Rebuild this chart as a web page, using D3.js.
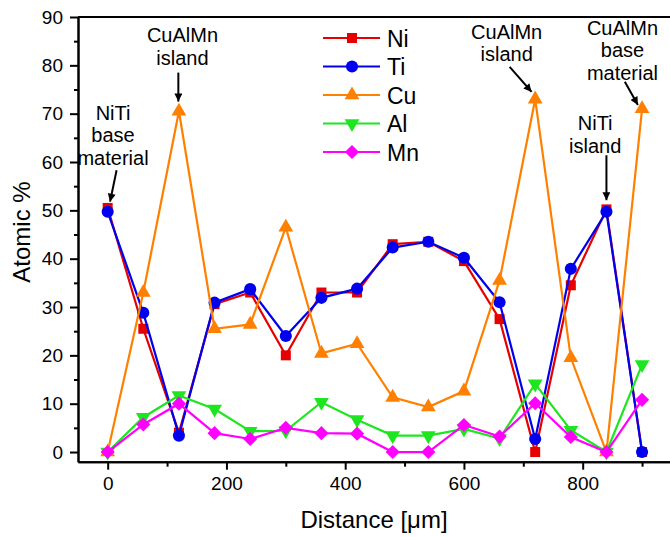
<!DOCTYPE html>
<html>
<head>
<meta charset="utf-8">
<script src="https://cdn.jsdelivr.net/npm/d3@7"></script>
<style>
  body { margin: 0; background: #fff; }
  text { font-family: Arial, "Liberation Sans", sans-serif; fill: #000; }
</style>
</head>
<body>
<div id="chart"></div>
<script>
var width = 670
var height = 537

// Data
var distance = [0, 60, 120, 180, 240, 300, 360, 420, 480, 540, 600, 660, 720, 780, 840, 900];
var ni = [50.5, 25.5, 4, 30.6, 33, 20, 33, 33, 43, 43.5, 39.5, 27.5, 0, 34.5, 50.2, 0];
var ti = [49.7, 28.8, 3.4, 30.9, 33.7, 24, 31.9, 33.8, 42.3, 43.5, 40.2, 31, 2.7, 37.9, 49.7, 0];
var cu = [0, 33, 70.5, 25.5, 26.4, 46.5, 20.4, 22.4, 11.3, 9.3, 12.6, 35.5, 73, 19.5, 0, 71];
var al = [0, 7.2, 11.7, 8.9, 4.3, 4.4, 10.3, 6.7, 3.4, 3.4, 4.8, 2.8, 14.1, 4.5, 0, 18.1];
var mn = [0, 5.7, 10, 3.9, 2.7, 5, 3.9, 3.8, 0, 0, 5.6, 3.2, 10.1, 3.1, 0, 10.8];

var seriesNames = ["Ni", "Ti", "Cu", "Al", "Mn"];
var seriesValues = [ni, ti, cu, al, mn];
var seriesColors = ["#e60000", "#0000ee", "#ff8000", "#1ee61e", "#ff00ff"];

var xTicks = [0, 200, 400, 600, 800];
var xMinorTicks = [100, 300, 500, 700, 900];
var yTicks = [0, 10, 20, 30, 40, 50, 60, 70, 80, 90];
var yMinorTicks = [5, 15, 25, 35, 45, 55, 65, 75, 85];

var annotations = [
    {lines: ["NiTi", "base", "material"], x: 9, y: 68.7, from: [15, 58.3], to: [4, 51.8]},
    {lines: ["CuAlMn", "island"], x: 126, y: 84.8, from: [119, 78.5], to: [119, 72.5]},
    {lines: ["CuAlMn", "island"], x: 672, y: 85.5, from: [677, 79.7], to: [714, 74.5]},
    {lines: ["CuAlMn", "base", "material"], x: 867, y: 86.3, from: [871, 76.6], to: [893, 71.8]},
    {lines: ["NiTi", "island"], x: 821, y: 66.6, from: [840, 61.4], to: [840, 52.1]}
];

// Scales

var x_scale = d3.scaleLinear()
    .domain([-50, 950])
    .range([78, 671.75]);

var y_scale = d3.scaleLinear()
    .domain([-2, 90])
    .range([461.7, 17]);

var svg = d3.select("#chart")
    .append("svg")
    .attr("width", width)
    .attr("height", height)
    .style("background-color", "white");

svg.append("defs").append("marker")
    .attr("id", "arrow")
    .attr("viewBox", "0 0 10 10")
    .attr("refX", 10)
    .attr("refY", 5)
    .attr("markerWidth", 10)
    .attr("markerHeight", 8)
    .attr("markerUnits", "userSpaceOnUse")
    .attr("orient", "auto")
    .append("path")
    .attr("d", "M0,0 L10,5 L0,10 Z")
    .attr("fill", "#000");

// Axes

var yAxis = d3.axisLeft(y_scale).tickValues(yTicks).tickSize(8).tickPadding(7).tickSizeOuter(0);
var yMinor = d3.axisLeft(y_scale).tickValues(yMinorTicks).tickSize(4).tickFormat("").tickSizeOuter(0);
var xAxis = d3.axisBottom(x_scale).tickValues(xTicks).tickSize(8).tickPadding(7).tickSizeOuter(0);
var xMinor = d3.axisBottom(x_scale).tickValues(xMinorTicks).tickSize(5).tickFormat("").tickSizeOuter(0);

var gy = svg.append("g").attr("transform", "translate(" + x_scale(-50) + ",0)").call(yAxis);
svg.append("g").attr("transform", "translate(" + x_scale(-50) + ",0)").call(yMinor);
var gx = svg.append("g").attr("transform", "translate(0," + y_scale(-2) + ")").call(xAxis);
svg.append("g").attr("transform", "translate(0," + y_scale(-2) + ")").call(xMinor);

svg.selectAll(".domain, .tick line").attr("stroke", "#000").attr("stroke-width", 2);
svg.selectAll(".tick text").style("font-size", "19px").attr("fill", "#000");

// top frame line
svg.append("line")
    .attr("x1", x_scale(-50)).attr("x2", x_scale(950))
    .attr("y1", y_scale(90)).attr("y2", y_scale(90))
    .attr("stroke", "#000").attr("stroke-width", 2);

svg.append("text")
    .attr("x", 374).attr("y", 528)
    .attr("text-anchor", "middle")
    .style("font-size", "24px")
    .text("Distance [\u03bcm]");

svg.append("text")
    .attr("transform", "translate(30,232) rotate(-90)")
    .attr("text-anchor", "middle")
    .style("font-size", "24px")
    .text("Atomic %");

// Series

var symbols = [
    {type: d3.symbolSquare, size: 100, rot: 0},
    {type: d3.symbolCircle, size: 115, rot: 0},
    {type: d3.symbolTriangle, size: 95, rot: 0},
    {type: d3.symbolTriangle, size: 95, rot: 180},
    {type: d3.symbolSquare, size: 100, rot: 45}
];

var line = d3.line()
    .x(function(d, i) { return x_scale(distance[i]); })
    .y(function(d) { return y_scale(d); });

seriesValues.forEach(function(vals, s) {
    var g = svg.append("g");
    g.append("path")
        .attr("d", line(vals))
        .attr("fill", "none")
        .attr("stroke", seriesColors[s])
        .attr("stroke-width", 2.2);
    g.selectAll("path.pt")
        .data(vals)
        .enter()
        .append("path")
        .attr("class", "pt")
        .attr("d", d3.symbol().type(symbols[s].type).size(symbols[s].size))
        .attr("transform", function(d, i) {
            return "translate(" + x_scale(distance[i]) + "," + y_scale(d) + ") rotate(" + symbols[s].rot + ")";
        })
        .attr("fill", seriesColors[s]);
});

// Legend

var legend = svg.append("g");
seriesNames.forEach(function(name, s) {
    var ly = 38 + s * 28.5;
    legend.append("line")
        .attr("x1", 323).attr("x2", 380)
        .attr("y1", ly).attr("y2", ly)
        .attr("stroke", seriesColors[s]).attr("stroke-width", 2.2);
    legend.append("path")
        .attr("d", d3.symbol().type(symbols[s].type).size(symbols[s].size))
        .attr("transform", "translate(352," + ly + ") rotate(" + symbols[s].rot + ")")
        .attr("fill", seriesColors[s]);
    legend.append("text")
        .attr("x", 387).attr("y", ly + 8.5)
        .style("font-size", "23px")
        .text(name);
});

// Annotations

annotations.forEach(function(a) {
    a.lines.forEach(function(t, k) {
        svg.append("text")
            .attr("x", x_scale(a.x))
            .attr("y", y_scale(a.y) + k * 22.5)
            .attr("text-anchor", "middle")
            .style("font-size", "20px")
            .text(t);
    });
    svg.append("line")
        .attr("x1", x_scale(a.from[0])).attr("y1", y_scale(a.from[1]))
        .attr("x2", x_scale(a.to[0])).attr("y2", y_scale(a.to[1]))
        .attr("stroke", "#000").attr("stroke-width", 2)
        .attr("marker-end", "url(#arrow)");
});
</script>
</body>
</html>
